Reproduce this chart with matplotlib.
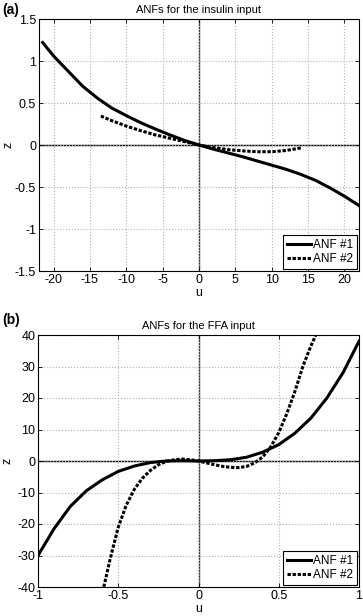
import matplotlib
matplotlib.use("Agg")
import matplotlib.pyplot as plt

plt.rcParams['font.family'] = ['Liberation Sans', 'DejaVu Sans']
plt.rcParams['axes.unicode_minus'] = False

# Panel (a): insulin input
u_a1 = [-21.5, -20, -18, -16, -14, -12, -10, -8, -6, -4, -2, 0, 2, 4, 6, 8, 10, 12, 14, 16, 18, 20, 22]
z_a1 = [1.22, 1.06, 0.88, 0.70, 0.56, 0.44, 0.35, 0.265, 0.19, 0.12, 0.055, 0.0, -0.05, -0.095, -0.14,
        -0.19, -0.24, -0.29, -0.35, -0.42, -0.51, -0.61, -0.72]
u_a2 = [-13.5, -12, -10, -8, -6, -4, -2, 0, 2, 4, 6, 8, 10, 12, 14]
z_a2 = [0.345, 0.29, 0.225, 0.17, 0.12, 0.08, 0.04, 0.0, -0.03, -0.055, -0.07, -0.08, -0.08, -0.065, -0.035]

# Panel (b): FFA input
u_b1 = [-1.0, -0.9, -0.8, -0.7, -0.6, -0.5, -0.4, -0.3, -0.2, -0.1, 0.0, 0.1, 0.2, 0.3, 0.4, 0.5, 0.6,
        0.7, 0.8, 0.9, 1.0]
z_b1 = [-30, -21.5, -14.5, -9.5, -6, -3.3, -1.6, -0.5, 0.0, 0.1, 0.0, 0.1, 0.4, 1.2, 2.8, 5.2, 8.8,
        13.6, 20, 28, 38]
u_b2 = [-0.59, -0.55, -0.5, -0.45, -0.4, -0.35, -0.3, -0.25, -0.2, -0.15, -0.1, -0.05, 0.0, 0.05, 0.1,
        0.15, 0.2, 0.25, 0.3, 0.35, 0.4, 0.45, 0.5, 0.55, 0.6, 0.65, 0.7, 0.74]
z_b2 = [-40, -31, -21, -14, -9, -5.5, -3, -1.2, -0.1, 0.4, 0.6, 0.4, 0.0, -0.6, -1.2, -1.7, -2.0, -2.1,
        -1.7, -0.6, 1.3, 4.5, 9, 15, 22, 30, 36.5, 41]

labels = ["ANF #1", "ANF #2"]

fig = plt.figure(figsize=(3.63, 6.16), dpi=100)
W, H = 363, 616
DASH = (0, (1.1, 0.55))

def setup(ax, xlim, ylim, xticks, yticks, title, left_px):
    ax.set_xlim(*xlim)
    ax.set_ylim(*ylim)
    ax.set_xticks(xticks)
    ax.set_yticks(yticks)
    ax.grid(True, color='#b0b0b0', linestyle=':', linewidth=0.8)
    ax.axhline(0, color='black', linewidth=1.0, zorder=1)
    ax.axvline(0, color='#333333', linewidth=1.0, zorder=1)
    ax.tick_params(direction='in', labelsize=9, length=3, width=0.6, top=True, right=True, pad=2)
    for s in ax.spines.values():
        s.set_linewidth(0.8)
    ax.set_title(title, fontsize=8, pad=4)
    ax.set_xlabel('u', fontsize=9, labelpad=1)
    ax.set_ylabel('z', fontsize=9)
    ax.yaxis.set_label_coords((14 - left_px) / 320, 0.5)

def legend(ax):
    leg = ax.legend(loc='lower right', fontsize=8.5, handlelength=2.0, handletextpad=0.2,
                    borderpad=0.3, labelspacing=0.2, fancybox=False, framealpha=1,
                    edgecolor='black', borderaxespad=0.2)
    leg.get_frame().set_linewidth(0.8)

ax1 = fig.add_axes([39 / W, 1 - 271 / H, 320 / W, 252 / H])
ax1.plot(u_a1, z_a1, color='black', linewidth=2.2, label=labels[0], zorder=3)
ax1.plot(u_a2, z_a2, color='black', linewidth=2.2, linestyle=DASH, label=labels[1], zorder=3)
setup(ax1, (-22, 22), (-1.5, 1.5), [-20, -15, -10, -5, 0, 5, 10, 15, 20],
      [-1.5, -1, -0.5, 0, 0.5, 1, 1.5], 'ANFs for the insulin input', 39)
ax1.set_yticklabels(['-1.5', '-1', '-0.5', '0', '0.5', '1', '1.5'])
legend(ax1)
fig.text(2 / W, 1 - 10 / H, '(a)', fontsize=10, fontweight='bold', va='center', ha='left')

ax2 = fig.add_axes([38 / W, 1 - 587 / H, 321 / W, 252 / H])
ax2.plot(u_b1, z_b1, color='black', linewidth=2.2, label=labels[0], zorder=3)
ax2.plot(u_b2, z_b2, color='black', linewidth=2.2, linestyle=DASH, label=labels[1], zorder=3)
setup(ax2, (-1, 1), (-40, 40), [-1, -0.5, 0, 0.5, 1],
      [-40, -30, -20, -10, 0, 10, 20, 30, 40], 'ANFs for the FFA input', 38)
ax2.set_xticklabels(['-1', '-0.5', '0', '0.5', '1'])
legend(ax2)
fig.text(2 / W, 1 - 320 / H, '(b)', fontsize=10, fontweight='bold', va='center', ha='left')

fig.savefig('out.png', dpi=100)
